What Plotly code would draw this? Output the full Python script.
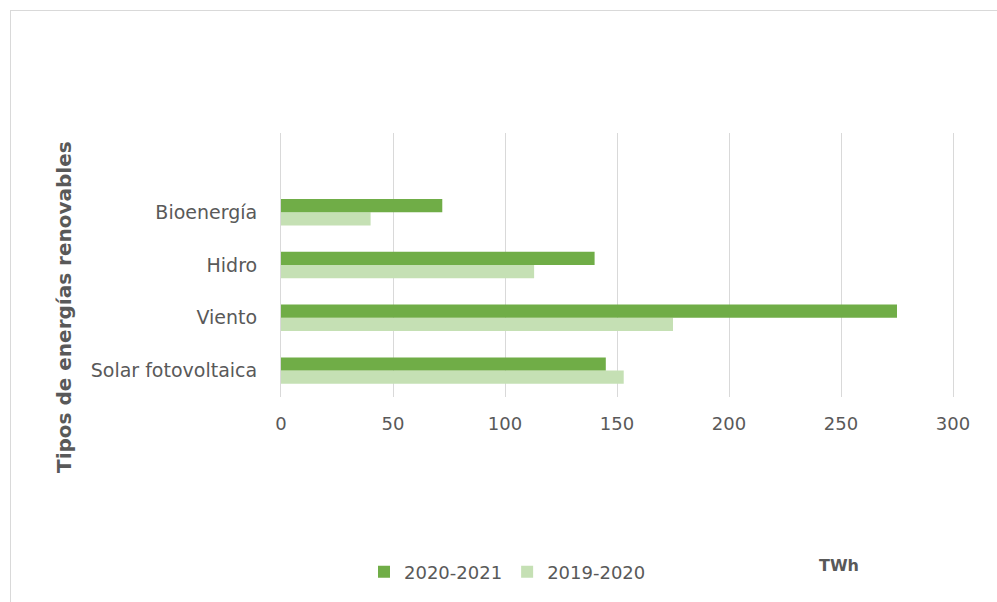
import plotly.graph_objects as go

categories = ["Solar fotovoltaica", "Viento", "Hidro", "Bioenergía"]
values_2020_2021 = [145, 275, 140, 72]
values_2019_2020 = [153, 175, 113, 40]
x_ticks = [0, 50, 100, 150, 200, 250, 300]

DARK = "#70AD47"
LIGHT = "#C5E0B4"
GRID = "#d9d9d9"
GREY_TEXT = "#595959"
FONT = "DejaVu Sans, Open Sans, sans-serif"

W, H = 997, 602
ML, MR, MT, MB = 281, 44, 133, 205
PW, PH = W - ML - MR, H - MT - MB


def px_x(p):
    return (p - ML) / PW


def px_y(p):
    return (H - MB - p) / PH


fig = go.Figure()
fig.add_trace(go.Bar(
    y=categories, x=values_2019_2020, name="2019-2020", orientation="h",
    marker=dict(color=LIGHT, line=dict(width=0)), legendrank=2,
))
fig.add_trace(go.Bar(
    y=categories, x=values_2020_2021, name="2020-2021", orientation="h",
    marker=dict(color=DARK, line=dict(width=0)), legendrank=1,
))

fig.update_layout(
    width=W, height=H,
    margin=dict(l=ML, r=MR, t=MT, b=MB),
    paper_bgcolor="white", plot_bgcolor="white",
    barmode="group", bargap=0.5, bargroupgap=0,
    font=dict(family=FONT, color=GREY_TEXT, size=18),
    showlegend=True,
    legend=dict(
        orientation="h", x=px_x(364), xanchor="left",
        y=px_y(572), yanchor="middle",
        font=dict(size=18, color=GREY_TEXT),
        tracegroupgap=0,
    ),
    xaxis=dict(
        range=[0, 300], tickvals=x_ticks, showgrid=True, gridcolor=GRID,
        gridwidth=1, zeroline=False, showline=False, ticks="",
        tickfont=dict(size=18, color=GREY_TEXT), ticklabelstandoff=14,
        fixedrange=True,
    ),
    yaxis=dict(
        type="category", categoryorder="array", categoryarray=categories,
        range=[-0.5, 4.5], showgrid=False, zeroline=False,
        showline=True, linecolor=GRID, linewidth=1, mirror=True,
        ticks="", tickfont=dict(size=19, color=GREY_TEXT),
        ticklabelstandoff=19, fixedrange=True,
    ),
    annotations=[
        dict(text="<b>Tipos de energías renovables</b>", xref="paper", yref="paper",
             x=px_x(64), y=px_y(307), textangle=-90, showarrow=False,
             font=dict(size=20, color=GREY_TEXT), xanchor="center", yanchor="middle"),
        dict(text="<b>TWh</b>", xref="paper", yref="paper",
             x=px_x(839), y=px_y(565), showarrow=False,
             font=dict(size=16, color=GREY_TEXT), xanchor="center", yanchor="middle"),
    ],
    shapes=[
        dict(type="line", xref="paper", yref="paper",
             x0=px_x(10.5), x1=px_x(10.5), y0=px_y(10), y1=px_y(620),
             line=dict(color=GRID, width=1)),
        dict(type="line", xref="paper", yref="paper",
             x0=px_x(10), x1=px_x(1010), y0=px_y(10.5), y1=px_y(10.5),
             line=dict(color=GRID, width=1)),
    ],
)

fig.write_html("out.html", config={"displayModeBar": False})
